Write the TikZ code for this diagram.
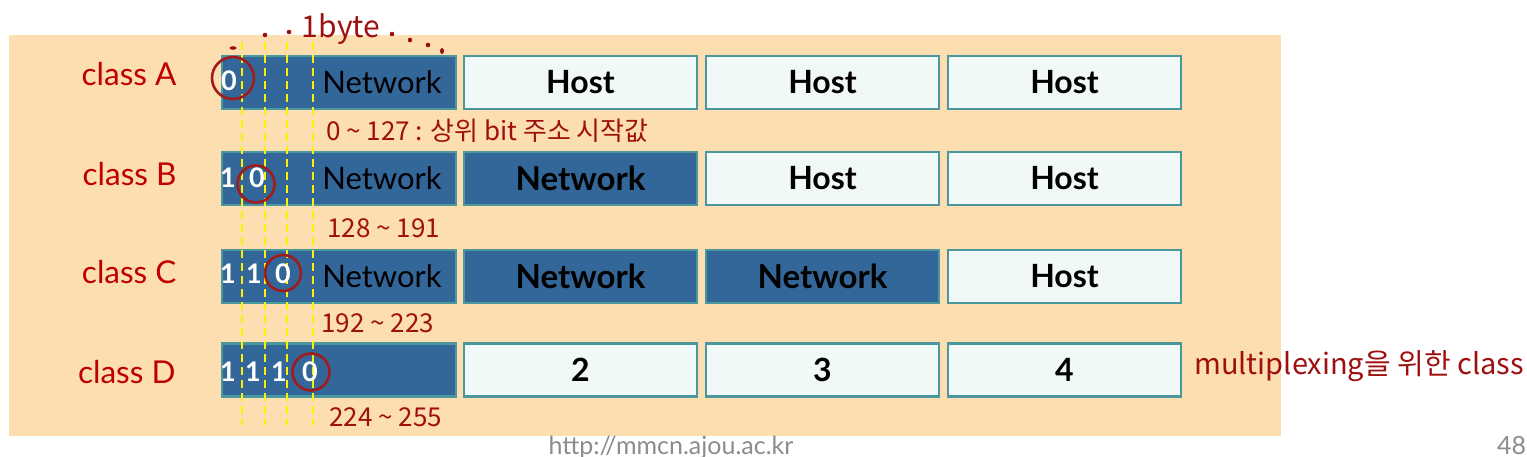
\documentclass[tikz,border=0pt]{standalone}
\usepackage{fontspec}
\setmainfont{Lato}
\newfontfamily\kr{Noto Sans CJK KR}
\definecolor{peach}{HTML}{FDDEB0}
\definecolor{dblue}{HTML}{336699}
\definecolor{tealb}{HTML}{4A979E}
\definecolor{lfill}{HTML}{F0F8F8}
\definecolor{cred}{HTML}{A01C1C}
\definecolor{lred}{HTML}{C00000}
\definecolor{hred}{HTML}{9E1010}
\definecolor{fgray}{HTML}{8C8C8C}
\tikzset{
  darkbox/.style={draw=tealb,line width=2.2pt,fill=dblue,minimum height=53pt,inner sep=0pt},
  lightbox/.style={draw=tealb,line width=2.2pt,fill=lfill,minimum height=53pt,inner sep=0pt,font=\fontsize{32}{34}\selectfont\bfseries},
  wide/.style={minimum width=233pt},
  first/.style={minimum width=234pt},
  boldlbl/.style={font=\fontsize{33}{35}\selectfont\bfseries},
  netlbl/.style={font=\fontsize{31}{33}\selectfont,text=black},
  bit/.style={font=\fontsize{27}{29}\selectfont\bfseries,text=white,inner sep=0pt},
  cls/.style={font=\fontsize{31.5}{33}\selectfont,text=lred,anchor=east},
  ring/.style={draw=cred,line width=2.6pt},
  ydash/.style={draw=yellow,line width=1.8pt,dash pattern=on 8pt off 5pt},
  hand/.style={text=hred,font=\kr\fontsize{26}{28}\selectfont,inner sep=0pt},
  hdot/.style={fill=hred,draw=none},
}
\begin{document}
\begin{tikzpicture}[x=1pt,y=-1pt]
\useasboundingbox (0,0) rectangle (1527,457);
\clip (0,0) rectangle (1527,457);
% background
\fill[peach] (9,35) rectangle (1281,436);
% row A
\node[darkbox,first] (a1) at (339,82.5) {};
\node[lightbox,wide] (a2) at (580.5,82.5) {Host};
\node[lightbox,wide] (a3) at (822.5,82.5) {Host};
\node[lightbox,wide] (a4) at (1064.5,82.5) {Host};
% row B
\node[darkbox,first] (b1) at (339,178.5) {};
\node[darkbox,wide,boldlbl] (b2) at (580.5,178.5) {Network};
\node[lightbox,wide] (b3) at (822.5,178.5) {Host};
\node[lightbox,wide] (b4) at (1064.5,178.5) {Host};
% row C
\node[darkbox,first] (c1) at (339,276.5) {};
\node[darkbox,wide,boldlbl] (c2) at (580.5,276.5) {Network};
\node[darkbox,wide,boldlbl] (c3) at (822.5,276.5) {Network};
\node[lightbox,wide] (c4) at (1064.5,276.5) {Host};
% row D
\node[darkbox,first] (d1) at (339,370) {};
\node[lightbox,wide] (d2) at (580.5,370) {2};
\node[lightbox,wide] (d3) at (822.5,370) {3};
\node[lightbox,wide] (d4) at (1064.5,370) {4};
% Network labels in first column
\node[netlbl] (na) at (382,82.5) {Network};
\node[netlbl] (nb) at (382,178.5) {Network};
\node[netlbl] (nc) at (382,276.5) {Network};
% class labels
\node[cls] (la) at (180,74) {class A};
\node[cls] (lb) at (180,174) {class B};
\node[cls] (lc) at (180,272) {class C};
\node[cls] (ld) at (179,372) {class D};
% yellow dashed lines
\draw[ydash] (242,42) -- (242,425);
\draw[ydash] (265,42) -- (265,425);
\draw[ydash] (287,42) -- (287,425);
\draw[ydash] (313,42) -- (313,425);
% bits
\node[bit] (ba0) at (229,81) {0};
\node[bit] (bb1) at (228,178) {1};
\node[bit] (bb0) at (257,178) {0};
\node[bit] (bc1) at (228,274) {1};
\node[bit] (bc2) at (254,274) {1};
\node[bit] (bc0) at (283,274) {0};
\node[bit] (bd1) at (228,372) {1};
\node[bit] (bd2) at (253,372) {1};
\node[bit] (bd3) at (279,372) {1};
\node[bit] (bd0) at (310,372) {0};
% red circles
\draw[ring] (233,78) circle (21);
\draw[ring] (256,184) circle (18.5);
\draw[ring] (283,273) circle (18);
\draw[ring] (311,372) circle (18.5);
% handwriting: 1 byte
\fill[hdot] (233,48) ellipse (3.5 and 1.8);
\fill[hdot] (265,35) circle (2.3);
\fill[hdot] (289,32) circle (2.3);
\node[hand,font=\kr\fontsize{30}{32}\selectfont] (byte) at (341,29) {1byte};
\fill[hdot] (392,34) circle (2.3);
\fill[hdot] (410,40) circle (2.3);
\fill[hdot] (428,45) circle (2.3);
\fill[hdot] (442,51) ellipse (2 and 3);
% handwriting: ranges
\node[hand,anchor=west] (ra) at (326,131) {0 \textasciitilde\ 127 : 상위 bit 주소 시작값};
\node[hand,anchor=west] (rb) at (327,228) {128 \textasciitilde\ 191};
\node[hand,anchor=west] (rc) at (321,323) {192 \textasciitilde\ 223};
\node[hand,anchor=west] (rd) at (329,417) {224 \textasciitilde\ 255};
\node[hand,anchor=west,font=\kr\fontsize{29}{31}\selectfont] (mx) at (1194,366) {multiplexing을 위한 class};
% footer
\node[text=fgray,font=\fontsize{25}{27}\selectfont,anchor=base] (url) at (671,454) {http://mmcn.ajou.ac.kr};
\node[text=fgray,font=\fontsize{25}{27}\selectfont,anchor=base west,inner sep=0pt] (pg) at (1497,454) {48};
\end{tikzpicture}
\end{document}
